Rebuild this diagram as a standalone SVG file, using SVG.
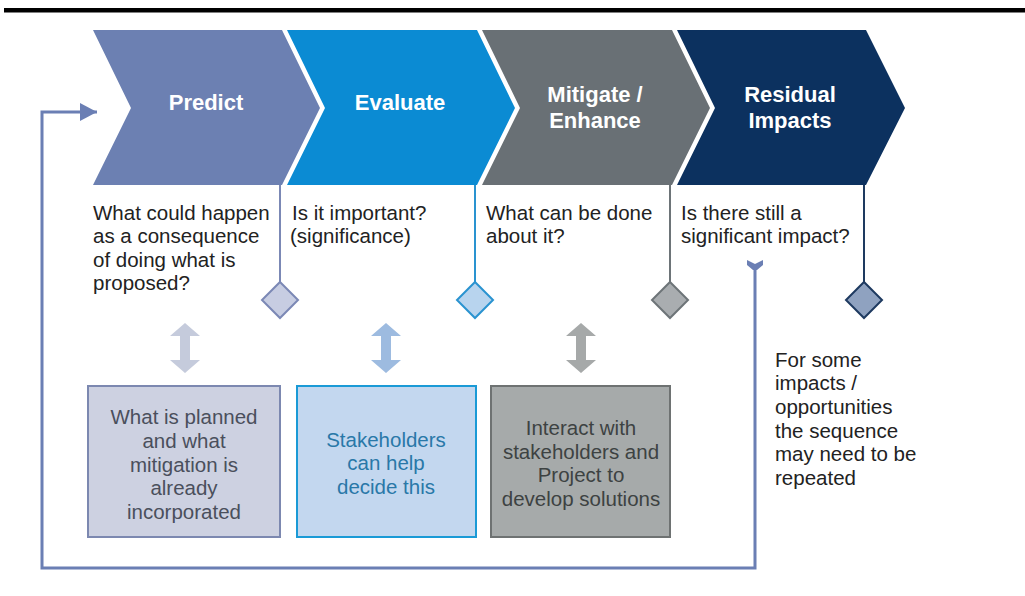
<svg xmlns="http://www.w3.org/2000/svg" width="1025" height="596" viewBox="0 0 1025 596">
<defs>
<style>
.title{font-family:"Liberation Sans",Arial,sans-serif;font-weight:bold;font-size:22px;fill:#ffffff;text-anchor:middle}
.q{font-family:"Liberation Sans",Arial,sans-serif;font-size:20.5px;fill:#222222}
.bt{font-family:"Liberation Sans",Arial,sans-serif;font-size:20.5px;text-anchor:middle}
.loop{fill:none;stroke:#6b7fb4;stroke-width:3}
</style>
<marker id="ah" markerUnits="userSpaceOnUse" markerWidth="20" markerHeight="20" refX="17" refY="10" orient="auto">
<path d="M0,1 L17,10 L0,19 Z" fill="#6b7fb4"/>
</marker>
<path id="dbl" d="M0,-25 L15,-12 L5,-12 L5,12 L15,12 L0,25 L-15,12 L-5,12 L-5,-12 L-15,-12 Z"/>
</defs>
<rect width="1025" height="596" fill="#ffffff"/>
<rect x="4" y="8" width="1021" height="4.5" fill="#000000"/>

<g id="connectors">
<path class="loop" d="M755,268 L755,568 L42,568 L42,112 L97,112" marker-end="url(#ah)"/>
<path d="M747,260 L755,264 L763,260 L763,265 L757,270 L753,270 L747,265 Z" fill="#6b7fb4"/>
<line x1="280" y1="185" x2="280" y2="283" stroke="#7b88b5" stroke-width="2"/>
<line x1="475" y1="185" x2="475" y2="283" stroke="#2a93d0" stroke-width="2"/>
<line x1="670" y1="185" x2="670" y2="283" stroke="#6d7478" stroke-width="2"/>
<line x1="864" y1="185" x2="864" y2="283" stroke="#1e3a60" stroke-width="2"/>
<use href="#dbl" x="185" y="348" fill="#c5cbdc"/>
<use href="#dbl" x="386" y="348" fill="#9dbbe0"/>
<use href="#dbl" x="581" y="348" fill="#a6a9a9"/>
</g>

<g id="predict">
<polygon points="93,30 282,30 320,108 282,185 93,185 131,108" fill="#6c80b2"/>
<text class="title" x="206" y="110">Predict</text>
<text class="q" x="93" y="220">What could happen</text>
<text class="q" x="93" y="243.3">as a consequence</text>
<text class="q" x="93" y="266.6">of doing what is</text>
<text class="q" x="93" y="289.9">proposed?</text>
<polygon points="280,282 298,300 280,318 262,300" fill="#c7cde2" stroke="#7b88b5" stroke-width="2"/>
</g>

<g id="evaluate">
<polygon points="287,30 477,30 515,108 477,185 287,185 325,108" fill="#0b8bd3"/>
<text class="title" x="400" y="110">Evaluate</text>
<text class="q" x="292" y="220">Is it important?</text>
<text class="q" x="290" y="243.3">(significance)</text>
<polygon points="475,282 493,300 475,318 457,300" fill="#b8d4ee" stroke="#2a93d0" stroke-width="2"/>
</g>

<g id="mitigate">
<polygon points="482,30 672,30 710,108 672,185 482,185 520,108" fill="#697075"/>
<text class="title" x="595" y="102">Mitigate /</text>
<text class="title" x="595" y="128">Enhance</text>
<text class="q" x="486" y="220">What can be done</text>
<text class="q" x="486" y="243.3">about it?</text>
<polygon points="670,282 688,300 670,318 652,300" fill="#a9adb0" stroke="#6d7478" stroke-width="2"/>
</g>

<g id="residual">
<polygon points="677,30 866,30 905,108 866,185 677,185 715,108" fill="#0c315f"/>
<text class="title" x="790" y="102">Residual</text>
<text class="title" x="790" y="128">Impacts</text>
<text class="q" x="681" y="220">Is there still a</text>
<text class="q" x="681" y="243.3">significant impact?</text>
<polygon points="864,282 882,300 864,318 846,300" fill="#8fa2c0" stroke="#1e3a60" stroke-width="2"/>
</g>

<g id="box-planned">
<rect x="88" y="386" width="192" height="151" fill="#cdd1e1" stroke="#7c88b0" stroke-width="2"/>
<text class="bt" fill="#4a4f5c" x="184" y="424">What is planned</text>
<text class="bt" fill="#4a4f5c" x="184" y="448">and what</text>
<text class="bt" fill="#4a4f5c" x="184" y="471.5">mitigation is</text>
<text class="bt" fill="#4a4f5c" x="184" y="495">already</text>
<text class="bt" fill="#4a4f5c" x="184" y="519">incorporated</text>
</g>

<g id="box-stakeholders">
<rect x="297" y="386" width="179" height="151" fill="#c3d7ef" stroke="#1a9ad6" stroke-width="2"/>
<text class="bt" fill="#2978a8" x="386" y="446.5">Stakeholders</text>
<text class="bt" fill="#2978a8" x="386" y="470">can help</text>
<text class="bt" fill="#2978a8" x="386" y="493.5">decide this</text>
</g>

<g id="box-interact">
<rect x="491" y="386" width="179" height="151" fill="#a6aaaa" stroke="#6e7272" stroke-width="2"/>
<text class="bt" fill="#3d4242" x="581" y="435">Interact with</text>
<text class="bt" fill="#3d4242" x="581" y="458.5">stakeholders and</text>
<text class="bt" fill="#3d4242" x="581" y="482">Project to</text>
<text class="bt" fill="#3d4242" x="581" y="505.5">develop solutions</text>
</g>

<g id="note">
<text class="q" x="775" y="366.7">For some</text>
<text class="q" x="775" y="390.3">impacts /</text>
<text class="q" x="775" y="413.9">opportunities</text>
<text class="q" x="775" y="437.5">the sequence</text>
<text class="q" x="775" y="461.1">may need to be</text>
<text class="q" x="775" y="484.7">repeated</text>
</g>
</svg>
